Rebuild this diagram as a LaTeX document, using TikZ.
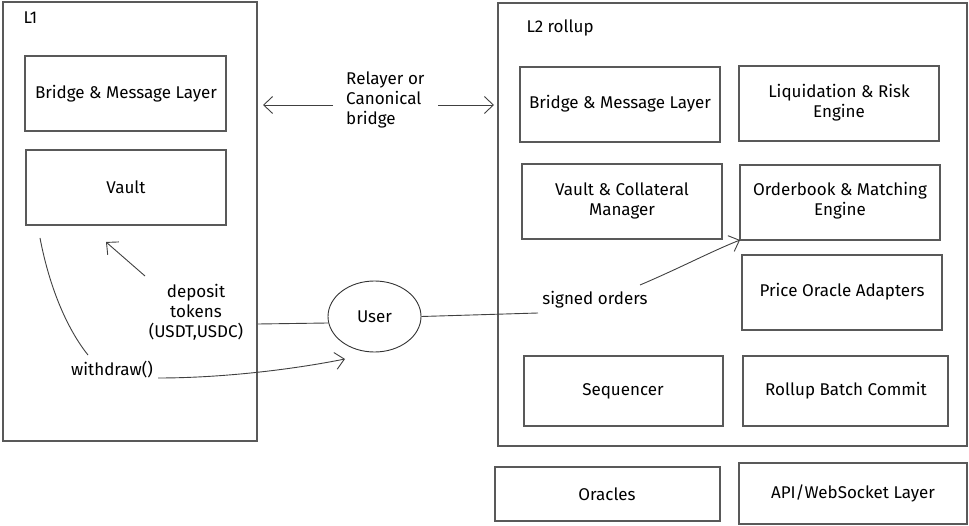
\documentclass[tikz,border=0pt]{standalone}
\usepackage{fontspec}
\setmainfont{Fira Sans}
\usetikzlibrary{arrows.meta,shapes.geometric}
\begin{document}
\begin{tikzpicture}[x=1pt,y=-1pt,
  frame/.style={draw=black!65,line width=1.1pt},
  lbl/.style={font=\fontsize{17}{20}\selectfont,align=center,inner sep=1pt},
  conn/.style={draw=black!75,line width=0.9pt},
  arr/.style={conn,-{Straight Barb[length=9pt,width=17pt]}},
  every node/.style={font=\fontsize{17}{20}\selectfont}]
\useasboundingbox (0,0) rectangle (969,526);
% containers
\draw[frame] (3,2) rectangle (257,441);
\draw[frame] (498,3) rectangle (967,446);
\node[anchor=west] (l1) at (20,18) {L1};
\node[anchor=west] (l2) at (523,28) {L2 rollup};
% L1 boxes
\draw[frame] (25,56) rectangle (226,131);
\node[lbl] (l1bridge) at (126,94) {Bridge \& Message Layer};
\draw[frame] (26,150) rectangle (226,225);
\node[lbl] (vault) at (126,187) {Vault};
% L2 boxes
\draw[frame] (520,67) rectangle (720,142);
\node[lbl] (l2bridge) at (620,104) {Bridge \& Message Layer};
\draw[frame] (739,66) rectangle (939,141);
\node[lbl] (liq) at (839,103) {Liquidation \& Risk\\Engine};
\draw[frame] (522,164) rectangle (722,239);
\node[lbl] (vcm) at (622,201) {Vault \& Collateral\\Manager};
\draw[frame] (740,165) rectangle (940,240);
\coordinate (obcorner) at (740,240);
\node[lbl] (ob) at (840,201) {Orderbook \& Matching\\Engine};
\draw[frame] (742,255) rectangle (942,330);
\node[lbl] (po) at (842,292) {Price Oracle Adapters};
\draw[frame] (524,356) rectangle (723,426);
\node[lbl] (seq) at (623,391) {Sequencer};
\draw[frame] (743,356) rectangle (948,426);
\node[lbl] (rbc) at (846,391) {Rollup Batch Commit};
% bottom boxes
\draw[frame] (495,467) rectangle (720,521);
\node[lbl] (orc) at (607,494) {Oracles};
\draw[frame] (739,463) rectangle (967,524);
\node[lbl] (api) at (853,493) {API/WebSocket Layer};
% user
\node[draw=black!80,line width=0.9pt,ellipse,minimum width=93pt,minimum height=71pt,inner sep=0pt] (user) at (374.5,316.5) {User};
% relayer
\node[lbl,align=left,anchor=west] (rel) at (345,100) {Relayer or\\Canonical\\bridge};
\coordinate (relL) at (333,105);
\coordinate (relLend) at (263,105);
\coordinate (relR) at (438,105);
\coordinate (relRend) at (494,105);
\draw[arr] (relL) -- (relLend);
\draw[arr] (relR) -- (relRend);
% deposit
\node[lbl] (dep) at (196,312) {deposit\\tokens\\(USDT,USDC)};
\coordinate (depA) at (258,324);
\coordinate (depB) at (145,276);
\coordinate (depEnd) at (106,242);
\draw[conn] (user.188) -- (depA);
\draw[arr] (depB) -- (depEnd);
% withdraw
\node[lbl] (wd) at (112,370) {withdraw()};
\coordinate (wdS) at (40,238);
\coordinate (wdE) at (88,355);
\coordinate (wdA) at (158,378);
\coordinate (wdEnd) at (345,359);
\draw[conn] (wdS) .. controls (50,290) and (68,330) .. (wdE);
\draw[arr] (wdA) .. controls (220,378) and (290,370) .. (wdEnd);
% signed orders
\node[lbl] (so) at (595,300) {signed orders};
\coordinate (soA) at (538,313);
\coordinate (soB) at (640,285);
\draw[conn] (user.east) -- (soA);
\draw[arr] (soB) .. controls (680,268) and (710,252) .. (obcorner);
\end{tikzpicture}
\end{document}
